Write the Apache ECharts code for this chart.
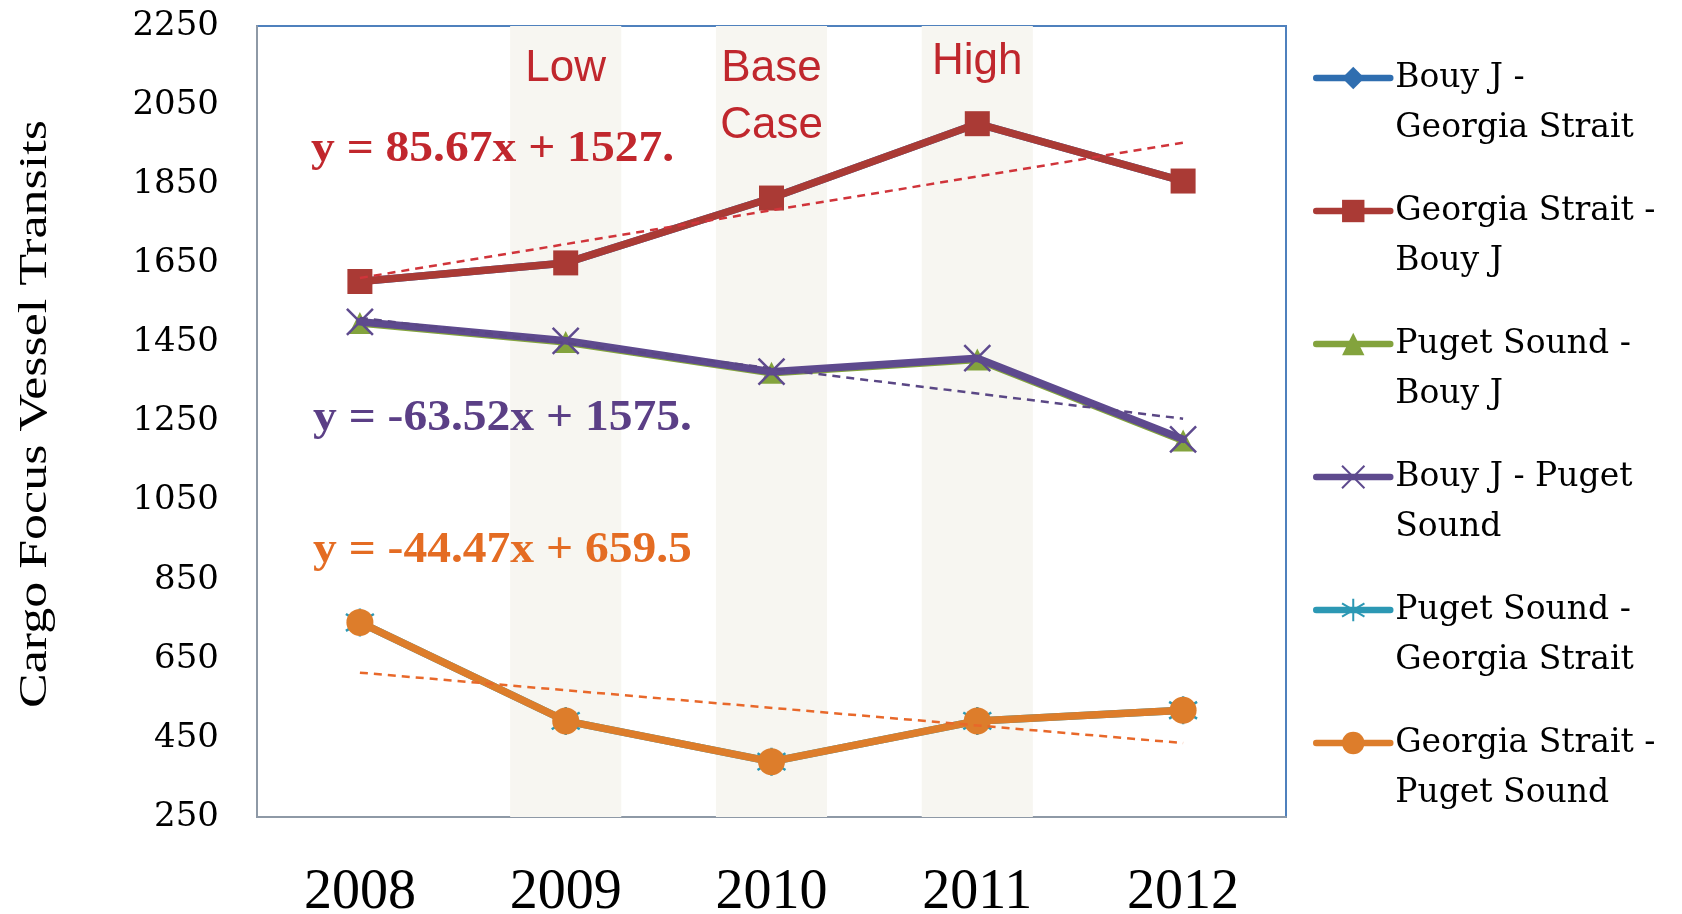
<!DOCTYPE html>
<html><head><meta charset="utf-8">
<script src="https://cdn.jsdelivr.net/npm/echarts@6/dist/echarts.min.js"></script>
<style>html,body{margin:0;padding:0;background:#fff}#c{width:1682px;height:914px}</style>
</head><body><div id="c"></div>
<script>
const years = ['2008','2009','2010','2011','2012'];
const yTicks = [250,450,650,850,1050,1250,1450,1650,1850,2050,2250];
const seriesNames = ['Bouy J - Georgia Strait','Georgia Strait - Bouy J','Puget Sound - Bouy J','Bouy J - Puget Sound','Puget Sound - Georgia Strait','Georgia Strait - Puget Sound'];
const legendLabels = ['Bouy J -\nGeorgia Strait','Georgia Strait -\nBouy J','Puget Sound -\nBouy J','Bouy J - Puget\nSound','Puget Sound -\nGeorgia Strait','Georgia Strait -\nPuget Sound'];
const bouyJGeorgia = [1604,1651,1815,2003,1858];
const georgiaBouyJ = [1604,1651,1815,2003,1858];
const pugetBouyJ = [1499,1451,1373,1407,1202];
const bouyJPuget = [1502,1454,1376,1410,1205];
const pugetGeorgia = [742,493,390,493,520];
const georgiaPuget = [742,493,390,493,520];
const trendRed = [1613,1955];
const trendPurple = [1512,1257];
const trendOrange = [615,437];
const bandValues = [null,2250,2250,2250,null];
const bandLabels = ['','Low','Base\nCase','High',''];
const equations = ['y = 85.67x + 1527.','y = -63.52x + 1575.','y = -44.47x + 659.5'];
const yTitle = 'Cargo Focus Vessel Transits';

const C = {blue:'#2F6EB0', red:'#AA3A35', green:'#83A33D', purple:'#5E4A8E', teal:'#2C98B4', orange:'#DD7D2B'};

function lineSeries(name, data, color, symbol, size, z, stroke){
  return {
    name, type:'line', data, z, symbol, symbolSize:size, showSymbol:true,
    lineStyle:{color, width:7.5, cap:'round', join:'round'},
    itemStyle: stroke ? {color:color, borderColor:color, borderWidth:2.5} : {color:color, borderWidth:0},
    emphasis:{disabled:true}
  };
}
function trendSeries(vals, color){
  return {
    type:'line', data:[[years[0], vals[0]],[years[years.length-1], vals[1]]], symbol:'none', z:20,
    lineStyle:{color, width:2.5, type:[8,6]}, silent:true, emphasis:{disabled:true}
  };
}
function eqText(text, x, y, color){
  return {type:'text', x, y, z:100, scaleX:1.08,
    style:{text, font:'bold 44px "Liberation Serif"', fill:color, verticalAlign:'middle'}};
}

const chart = echarts.init(document.getElementById('c'), null, {renderer:'canvas'});
chart.setOption({
  animation:false,
  backgroundColor:'#fff',
  grid:{left:257, top:26, width:1029, height:791, outerBoundsMode:'none', containLabel:false,
        show:true, borderColor:'#4F81BD', borderWidth:2, backgroundColor:'transparent'},
  xAxis:{
    type:'category', data:years, boundaryGap:true,
    axisLine:{lineStyle:{color:'#8E99A6', width:2}}, axisTick:{show:false},
    axisLabel:{fontFamily:'Liberation Serif', fontSize:56, color:'#000', margin:48}
  },
  yAxis:{
    type:'value', min:250, max:2250,
    axisLine:{show:true, lineStyle:{color:'#8E99A6', width:2}}, axisTick:{show:false}, splitLine:{show:false},
    axisLabel:{customValues:yTicks, formatter:v=>String(v), fontFamily:'DejaVu Serif', fontSize:34, color:'#000', margin:38}
  },
  legend:{
    orient:'vertical', left:1308, top:-2, itemWidth:74, itemHeight:28, itemGap:-17,
    data:seriesNames, selectedMode:false,
    lineStyle:{width:6.5, cap:'round'},
    formatter: n => '\n' + legendLabels[seriesNames.indexOf(n)],
    textStyle:{fontFamily:'DejaVu Serif', fontSize:33, color:'#000', lineHeight:50}
  },
  graphic:[
    eqText(equations[0], 311, 150, '#C1272D'),
    eqText(equations[1], 313, 419, '#5B3F86'),
    eqText(equations[2], 313, 551, '#E46C23'),
    {type:'text', x:35, y:414, rotation:Math.PI/2, scaleX:1.3, z:100,
     style:{text:yTitle, font:'40px "Liberation Serif"', fill:'#000', align:'center', verticalAlign:'middle'}}
  ],
  series:[
    {
      type:'bar', barWidth:'54%', z:1, silent:true,
      itemStyle:{color:'#F7F6F1'},
      data: bandValues.map((v,i)=>({value:v, label:{
        show:!!bandLabels[i], formatter:bandLabels[i], position:'insideTop',
        distance: bandLabels[i]==='High' ? 7 : 14,
        fontFamily:'Liberation Sans', fontSize:44, lineHeight:57, color:'#C0272D'
      }}))
    },
    lineSeries(seriesNames[0], bouyJGeorgia, C.blue, 'diamond', 22, 3),
    lineSeries(seriesNames[1], georgiaBouyJ, C.red, 'rect', 25, 4),
    lineSeries(seriesNames[2], pugetBouyJ, C.green, 'triangle', 22, 5),
    lineSeries(seriesNames[3], bouyJPuget, C.purple, 'path://M0,0L10,10M10,0L0,10', 26, 6, true),
    lineSeries(seriesNames[4], pugetGeorgia, C.teal, 'path://M5,0L5,10M0,2L10,8M0,8L10,2', 28, 7, true),
    lineSeries(seriesNames[5], georgiaPuget, C.orange, 'circle', 27, 8),
    trendSeries(trendRed, '#D0343A'),
    trendSeries(trendPurple, '#5A4785'),
    trendSeries(trendOrange, '#E8682A')
  ]
});
</script></body></html>
